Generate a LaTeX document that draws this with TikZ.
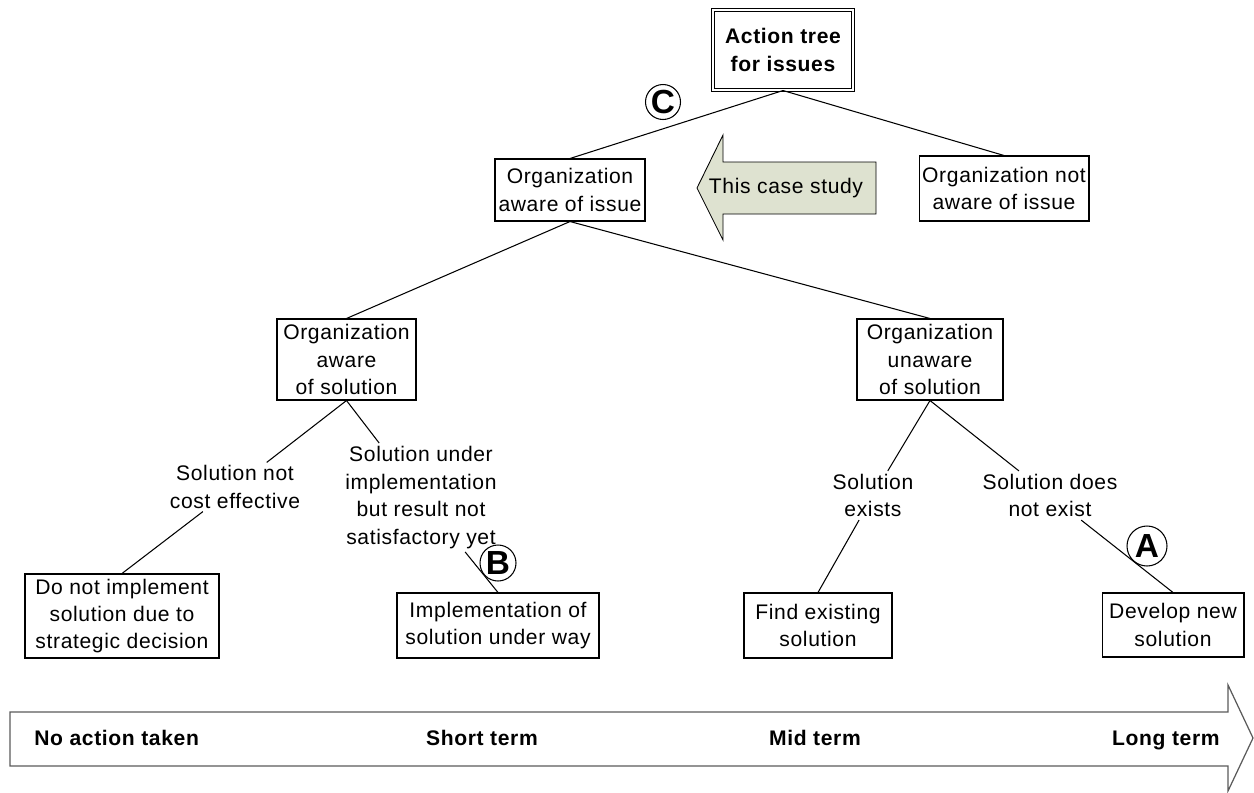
\documentclass[tikz,border=0pt]{standalone}
\usepackage{fontspec}
\setmainfont{Liberation Sans}[LetterSpace=3]
\definecolor{caseFill}{RGB}{222,226,208}
\definecolor{timeLine}{RGB}{90,90,90}
\begin{document}
\begin{tikzpicture}[x=0.02cm,y=-0.02cm]
	\tikzstyle{Box} = [rectangle, draw=black, line width=0.6pt, align=center, inner sep=0pt, font=\fontsize{12}{15.6}\selectfont]
	\tikzstyle{Label} = [align=center, inner sep=1.5pt, font=\fontsize{12}{15.8}\selectfont]
	\tikzstyle{Letter} = [circle, draw=black, line width=0.6pt, inner sep=0pt, font=\bfseries\fontsize{19}{19}\selectfont]
	\tikzstyle{Term} = [inner sep=0pt, font=\bfseries\fontsize{12}{14}\selectfont]
	\tikzstyle{link} = [line width=0.6pt, black]
	
	\useasboundingbox (0,0) rectangle (1254,792);
	
	% tree of boxes
	\node (root) [Box, double, double distance=1.6pt, minimum width=2.8cm, minimum height=1.6cm, font=\bfseries\fontsize{12}{15.6}\selectfont] at (783,50) {Action tree\\for issues};
	\node (awIssue) [Box, minimum width=3cm, minimum height=1.24cm] at (570,190) {Organization\\aware of issue};
	\node (notAware) [Box, minimum width=3.4cm, minimum height=1.3cm] at (1004,188.5) {Organization not\\aware of issue};
	\node (awSol) [Box, minimum width=2.78cm, minimum height=1.62cm] at (346.5,359.5) {Organization\\aware\\of solution};
	\node (unawSol) [Box, minimum width=2.92cm, minimum height=1.62cm] at (930,359.5) {Organization\\unaware\\of solution};
	\node (doNot) [Box, minimum width=3.88cm, minimum height=1.68cm] at (122,616) {Do not implement\\solution due to\\strategic decision};
	\node (impl) [Box, minimum width=4.04cm, minimum height=1.3cm] at (498,625.5) {Implementation of\\solution under way};
	\node (findSol) [Box, minimum width=2.96cm, minimum height=1.3cm] at (818,625.5) {Find existing\\solution};
	\node (devSol) [Box, minimum width=2.84cm, minimum height=1.28cm] at (1173,625) {Develop new\\solution};
	
	% branch labels
	\node (notCost) [Label] at (235,487) {Solution not\\cost effective};
	\node (underImpl) [Label] at (421,497.5) {Solution under\\implementation\\but result not\\satisfactory yet};
	\node (solExists) [Label] at (873,495.5) {Solution\\exists};
	\node (solNone) [Label] at (1050,495.5) {Solution does\\not exist};
	
	\draw [link] (root.south) -- (awIssue.north);
	\draw [link] (root.south) -- (notAware.north);
	\draw [link] (awIssue.south) -- (awSol.north);
	\draw [link] (awIssue.south) -- (unawSol.north);
	\draw [link] (awSol.south) -- (notCost);
	\draw [link] (awSol.south) -- (underImpl);
	\draw [link] (notCost) -- (doNot.north);
	\draw [link] (underImpl) -- (impl.north);
	\draw [link] (unawSol.south) -- (solExists);
	\draw [link] (unawSol.south) -- (solNone);
	\draw [link] (solExists) -- (findSol.north);
	\draw [link] (solNone) -- (devSol.north);
	
	% markers
	\node (markC) [Letter, minimum size=0.7cm] at (663,102) {C};
	\node (markB) [Letter, minimum size=0.72cm] at (498,563) {B};
	\node (markA) [Letter, minimum size=0.8cm] at (1147,546) {A};
	
	% this case study arrow
	\draw [line width=0.5pt, fill=caseFill] (876,162) -- (723,162) -- (723,135) -- (697,188) -- (723,240) -- (723,214) -- (876,214) -- cycle;
	\node (caseStudy) [Label] at (786,188) {This case study};
	
	% time axis
	\draw [line width=0.7pt, draw=timeLine] (10,712) -- (1228,712) -- (1228,685) -- (1253,738) -- (1228,791) -- (1228,766) -- (10,766) -- cycle;
	\node (noAction) [Term, anchor=base west] at (34,745) {No action taken};
	\node (shortTerm) [Term, anchor=base] at (482,745) {Short term};
	\node (midTerm) [Term, anchor=base] at (815,745) {Mid term};
	\node (longTerm) [Term, anchor=base east] at (1220,745) {Long term};
\end{tikzpicture}
\end{document}
